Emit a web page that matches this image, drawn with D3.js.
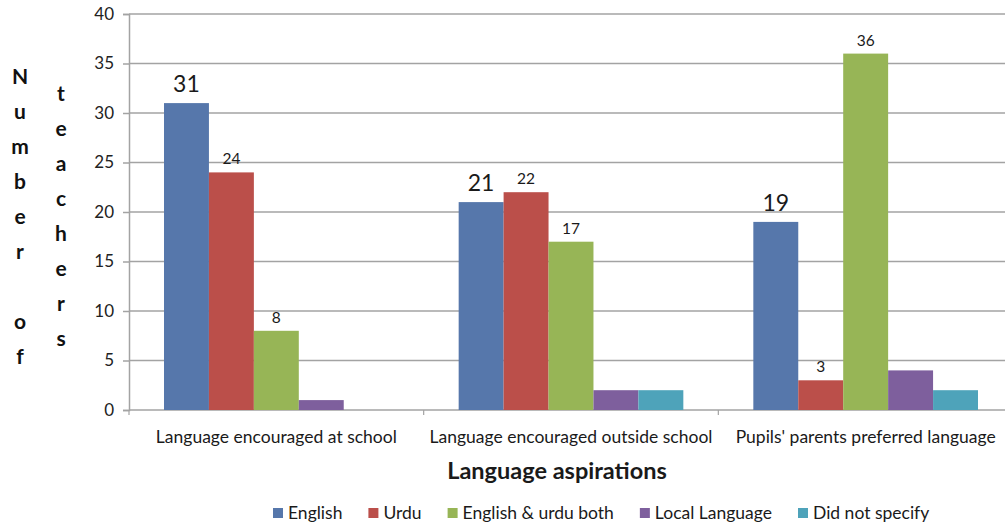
<!DOCTYPE html>
<html><head><meta charset="utf-8">
<script src="https://cdn.jsdelivr.net/npm/d3@7"></script>
<style>
html,body{margin:0;padding:0;background:#fff;}
svg{display:block;font-family:Lato,"Open Sans",sans-serif;}
</style></head><body>
<svg id="chart" width="1005" height="527"></svg>
<script>
const categories = ["Language encouraged at school","Language encouraged outside school","Pupils' parents preferred language"];
const seriesNames = ["English","Urdu","English & urdu both","Local Language","Did not specify"];
const english = [31,21,19];
const urdu = [24,22,3];
const englishUrduBoth = [8,17,36];
const localLanguage = [1,2,4];
const didNotSpecify = [0,2,2];
const seriesValues = [english, urdu, englishUrduBoth, localLanguage, didNotSpecify];
const seriesColors = ["#5677ab","#bb4f4a","#97b556","#7e5f9d","#4ea3ba"];
const labelStyle = ["big","small","small","none","none"];
const yTicks = [0,5,10,15,20,25,30,35,40];
const yTitleLeft = "Number of";
const yTitleRight = "teachers";
const xTitle = "Language aspirations";

const svg = d3.select("#chart");
const plotLeft = 129, plotRight = 1013, plotTop = 14, plotBottom = 410;
const x0 = d3.scaleBand().domain(d3.range(categories.length)).range([plotLeft, plotRight]).padding(0);
const x1 = d3.scaleBand().domain(d3.range(seriesNames.length)).range([35, x0.bandwidth()-35]).padding(0);
const y = d3.scaleLinear().domain([0,40]).range([plotBottom, plotTop]);

// gridlines
svg.append("g").selectAll("line").data(yTicks).join("line")
  .attr("x1", plotLeft).attr("x2", 1005)
  .attr("y1", d=>y(d)).attr("y2", d=>y(d))
  .attr("stroke","#a3a3a3").attr("stroke-width",1.5);

// y axis
const yAxis = svg.append("g").attr("transform",`translate(${plotLeft},0)`)
  .call(d3.axisLeft(y).tickValues(yTicks).tickSize(6).tickPadding(9));
yAxis.select(".domain").attr("stroke","#a3a3a3").attr("stroke-width",1.5);
yAxis.selectAll(".tick line").attr("stroke","#a3a3a3").attr("stroke-width",1.5);
yAxis.selectAll("text").attr("font-size",17).attr("fill","#222").attr("font-family","Lato");

// x axis ticks at boundaries
const bounds = d3.range(categories.length+1).map(i=> plotLeft + i*x0.bandwidth());
svg.append("g").selectAll("line").data(bounds).join("line")
  .attr("x1",d=>d).attr("x2",d=>d).attr("y1",plotBottom).attr("y2",plotBottom+5)
  .attr("stroke","#a3a3a3").attr("stroke-width",1.2);

// bars
const groups = svg.append("g").selectAll("g").data(categories).join("g")
  .attr("transform",(d,i)=>`translate(${x0(i)},0)`);
groups.selectAll("rect").data((d,i)=>seriesValues.map((s,j)=>({j, v:s[i]}))).join("rect")
  .attr("x",d=>x1(d.j)).attr("width",x1.bandwidth())
  .attr("y",d=>y(d.v)).attr("height",d=>plotBottom - y(d.v))
  .attr("fill",d=>seriesColors[d.j]);

// data labels
groups.selectAll("text.val").data((d,i)=>seriesValues.map((s,j)=>({j, v:s[i]})).filter(d=>labelStyle[d.j]!=="none")).join("text")
  .attr("class","val")
  .attr("x",d=>x1(d.j)+x1.bandwidth()/2)
  .attr("y",d=>y(d.v) - (labelStyle[d.j]==="big"?11:8))
  .attr("text-anchor","middle")
  .attr("font-size",d=>labelStyle[d.j]==="big"?23:15.5)
  .attr("fill","#1a1a1a")
  .text(d=>d.v);

// category labels
svg.append("g").selectAll("text").data(categories).join("text")
  .attr("x",(d,i)=>x0(i)+x0.bandwidth()/2).attr("y",443)
  .attr("text-anchor","middle").attr("font-size",17.5).attr("fill","#1a1a1a")
  .text(d=>d);

// x title
svg.append("text").attr("x",557).attr("y",479).attr("text-anchor","middle")
  .attr("font-size",23.5).attr("font-weight","bold").attr("fill","#1a1a1a").text(xTitle);

// y title: stacked letters
function stacked(str, cx, y0, step){
  const g = svg.append("g");
  str.split("").forEach((ch,k)=>{
    if(ch===" ") return;
    g.append("text").attr("x",cx).attr("y",y0+k*step).attr("text-anchor","middle")
      .attr("font-size",21).attr("font-weight","bold").attr("fill","#111").text(ch);
  });
}
stacked(yTitleLeft, 20, 84, 35);
stacked(yTitleRight, 61, 101, 35);

// legend
const legend = svg.append("g");
let lx = 273;
seriesNames.forEach((n,j)=>{
  legend.append("rect").attr("x",lx).attr("y",508).attr("width",10).attr("height",10).attr("fill",seriesColors[j]);
  const t = legend.append("text").attr("x",lx+15).attr("y",519).attr("font-size",17.5).attr("fill","#1a1a1a").text(n);
  lx += 15 + t.node().getComputedTextLength() + 26;
});
</script></body></html>
